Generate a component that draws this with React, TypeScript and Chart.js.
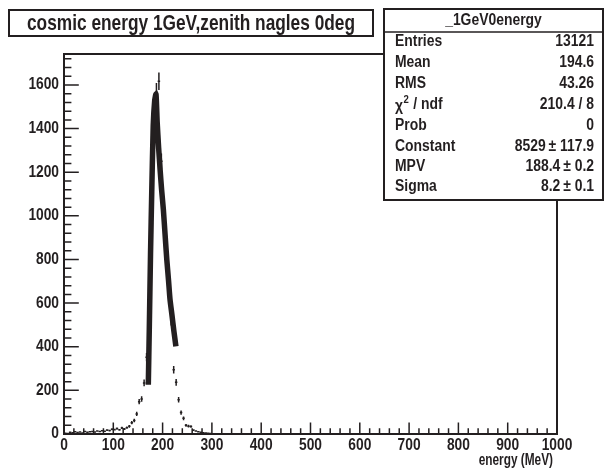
import React, { useEffect, useRef } from "react";
import { Chart, registerables } from "chart.js";

Chart.register(...registerables);

// ---------- data ----------
const binWidth = 5; // MeV
const binCenters = [
  2.5, 7.5, 12.5, 17.5, 22.5, 27.5, 32.5, 37.5, 42.5, 47.5,
  52.5, 57.5, 62.5, 67.5, 72.5, 77.5, 82.5, 87.5, 92.5, 97.5,
  102.5, 107.5, 112.5, 117.5, 122.5, 127.5, 132.5, 137.5, 142.5, 147.5,
  152.5, 157.5, 162.5, 167.5, 172.5, 177.5, 182.5, 187.5, 192.5, 197.5,
  202.5, 207.5, 212.5, 217.5, 222.5, 227.5, 232.5, 237.5, 242.5, 247.5,
  252.5, 257.5, 262.5, 267.5, 272.5, 277.5, 282.5, 287.5, 292.5, 297.5,
];
const binCounts = [
  3, 2, 8, 6, 10, 7, 9, 5, 11, 8,
  10, 12, 9, 14, 11, 15, 13, 18, 16, 22,
  20, 25, 19, 28, 23, 29, 35, 52, 62, 92,
  148, 160, 234, 352, 560, 960, 1380, 1570, 1617, 1250,
  1000, 820, 660, 520, 295, 237, 157, 98, 72, 40,
  36, 34, 18, 14, 10, 8, 6, 5, 3, 2,
];

// Landau fit curve as drawn (energy MeV, value)
const fitEnergy = [171, 173, 175.5, 178, 181, 184, 186.6, 189, 192, 195, 198, 201.5, 205, 208.5, 212, 215, 219, 223, 227];
const fitValue = [226, 480, 825, 1111, 1415, 1530, 1558, 1430, 1310, 1210, 1120, 1030, 915, 800, 705, 618, 545, 470, 402];

const xTickValues = [0, 100, 200, 300, 400, 500, 600, 700, 800, 900, 1000];
const yTickValues = [0, 200, 400, 600, 800, 1000, 1200, 1400, 1600];
const xMax = 1000;
const yMax = 1742;

const chartTitle = "cosmic energy 1GeV,zenith nagles 0deg";
const xAxisTitle = "energy (MeV)";
const statsTitle = "_1GeV0energy";
const statLabels = ["Entries", "Mean", "RMS", "CHI2", "Prob", "Constant", "MPV", "Sigma"];
const statValues = ["13121", "194.6", "43.26", "210.4 / 8", "0", "8529\u2009\u00b1 117.9", "188.4\u2009\u00b1 0.2", "8.2\u2009\u00b1 0.1"];

// ---------- style ----------
const INK = "#231f20";
const FONT = "'Liberation Sans', Arial, Helvetica, sans-serif";

// draw horizontally condensed (Helvetica-condensed look) real text
function condText(ctx: any, text: string, x: number, y: number, align: string, sx: number) {
  const w = ctx.measureText(text).width * sx;
  let x0 = x;
  if (align === "right") x0 = x - w;
  else if (align === "center") x0 = x - w / 2;
  ctx.save();
  ctx.translate(x0, y);
  ctx.scale(sx, 1);
  ctx.textAlign = "left";
  ctx.fillText(text, 0, 0);
  ctx.restore();
  return w;
}

const rootPlugin = {
  id: "rootStyle",
  beforeDatasetsDraw(chart: any) {
    const { ctx, scales } = chart;
    const x = scales.x;
    const y = scales.y;
    ctx.save();
    ctx.strokeStyle = INK;
    ctx.lineWidth = 1.5;
    binCenters.forEach((c, i) => {
      const n = binCounts[i];
      if (n <= 0) return;
      const e = Math.sqrt(n);
      const px = x.getPixelForValue(c);
      const py = y.getPixelForValue(n);
      ctx.beginPath();
      ctx.moveTo(px, y.getPixelForValue(n + e));
      ctx.lineTo(px, y.getPixelForValue(Math.max(0, n - e)));
      ctx.moveTo(x.getPixelForValue(c - binWidth / 2), py);
      ctx.lineTo(x.getPixelForValue(c + binWidth / 2), py);
      ctx.stroke();
    });
    ctx.restore();
  },
  afterDraw(chart: any) {
    const { ctx, chartArea, scales } = chart;
    const x = scales.x;
    const y = scales.y;
    const { left, right, top, bottom } = chartArea;
    ctx.save();
    ctx.strokeStyle = INK;
    ctx.fillStyle = INK;

    // ticks (inside the frame, ROOT style)
    ctx.lineWidth = 1.5;
    ctx.beginPath();
    for (let k = 0; k < xTickValues.length; k++) {
      const v = xTickValues[k];
      const px = x.getPixelForValue(v);
      ctx.moveTo(px, bottom);
      ctx.lineTo(px, bottom - 11.4);
      if (k < xTickValues.length - 1) {
        const step = (xTickValues[k + 1] - v) / 5;
        for (let m = 1; m < 5; m++) {
          const mx = x.getPixelForValue(v + m * step);
          ctx.moveTo(mx, bottom);
          ctx.lineTo(mx, bottom - 5.7);
        }
      }
    }
    for (let k = 0; k < yTickValues.length; k++) {
      const v = yTickValues[k];
      const py = y.getPixelForValue(v);
      ctx.moveTo(left, py);
      ctx.lineTo(left + 14.8, py);
      const step = k < yTickValues.length - 1 ? yTickValues[k + 1] - v : yTickValues[1] - yTickValues[0];
      for (let m = 1; m < 5; m++) {
        const val = v + (m * step) / 5;
        if (val > yMax) break;
        const my = y.getPixelForValue(val);
        ctx.moveTo(left, my);
        ctx.lineTo(left + 7.4, my);
      }
    }
    ctx.stroke();

    // frame
    ctx.lineWidth = 2;
    ctx.strokeRect(left, top, right - left, bottom - top);

    ctx.textBaseline = "middle";
    const tsx = 0.86;

    // tick labels
    ctx.font = `bold 16px ${FONT}`;
    xTickValues.forEach((v) => {
      condText(ctx, String(v), x.getPixelForValue(v), bottom + 12, "center", tsx);
    });
    yTickValues.forEach((v) => {
      condText(ctx, String(v), left - 5, y.getPixelForValue(v), "right", tsx);
    });

    // x axis title
    ctx.font = `bold 16px ${FONT}`;
    condText(ctx, xAxisTitle, right - 4, 461, "right", 0.74);

    // title box
    ctx.fillStyle = "#ffffff";
    ctx.fillRect(9, 10, 364, 26);
    ctx.lineWidth = 2;
    ctx.strokeRect(9, 10, 364, 26);
    ctx.fillStyle = INK;
    ctx.font = `bold 22px ${FONT}`;
    const tw = ctx.measureText(chartTitle).width;
    condText(ctx, chartTitle, 191, 24, "center", 328 / tw);

    // stats box
    const bx = 384, by = 9, bw = 219, bh = 191;
    ctx.fillStyle = "#ffffff";
    ctx.fillRect(bx, by, bw, bh);
    ctx.strokeRect(bx, by, bw, bh);
    ctx.lineWidth = 1.5;
    ctx.beginPath();
    ctx.moveTo(bx, 32);
    ctx.lineTo(bx + bw, 32);
    ctx.stroke();
    ctx.fillStyle = INK;
    const sx = 0.87;
    ctx.font = `bold 16px ${FONT}`;
    condText(ctx, statsTitle, bx + bw / 2, 21, "center", sx);
    const rowY = [42, 63, 84, 105, 126, 147, 167, 187];
    statLabels.forEach((lab, i) => {
      const yy = rowY[i];
      if (lab === "CHI2") {
        ctx.font = `bold 16px ${FONT}`;
        const w = condText(ctx, "\u03c7", 395, yy + 2, "left", sx);
        ctx.font = `bold 11px ${FONT}`;
        const w2 = condText(ctx, "2", 395 + w + 0.5, yy - 5, "left", sx);
        ctx.font = `bold 16px ${FONT}`;
        condText(ctx, " / ndf", 395 + w + w2 + 1, yy, "left", sx);
      } else {
        ctx.font = `bold 16px ${FONT}`;
        condText(ctx, lab, 395, yy, "left", sx);
      }
      ctx.font = `bold 16px ${FONT}`;
      condText(ctx, statValues[i], 594, yy, "right", sx);
    });
    ctx.restore();
  },
};

export default function App() {
  const ref = useRef<HTMLCanvasElement | null>(null);
  useEffect(() => {
    if (!ref.current) return;
    const chart = new Chart(ref.current, {
      type: "line",
      data: {
        datasets: [
          {
            label: "fit",
            data: fitEnergy.map((e, i) => ({ x: e, y: fitValue[i] })),
            borderColor: INK,
            borderWidth: 5.5,
            pointRadius: 0,
            tension: 0.2,
            fill: false,
          },
        ],
      },
      options: {
        responsive: false,
        animation: false,
        devicePixelRatio: 1,
        layout: { padding: { left: 0, top: 54, right: 48, bottom: 0 } },
        plugins: { legend: { display: false }, tooltip: { enabled: false }, title: { display: false } },
        scales: {
          x: {
            type: "linear",
            min: 0,
            max: xMax,
            grid: { display: false, drawTicks: false },
            border: { display: false },
            afterBuildTicks: (s: any) => {
              s.ticks = xTickValues.map((v) => ({ value: v }));
            },
            afterFit: (s: any) => {
              s.height = 37;
            },
            ticks: { display: false },
          },
          y: {
            type: "linear",
            min: 0,
            max: yMax,
            grid: { display: false, drawTicks: false },
            border: { display: false },
            afterBuildTicks: (s: any) => {
              s.ticks = yTickValues.map((v) => ({ value: v }));
            },
            afterFit: (s: any) => {
              s.width = 64;
            },
            ticks: { display: false },
          },
        },
      },
      plugins: [rootPlugin],
    } as any);
    return () => chart.destroy();
  }, []);
  return (
    <div style={{ position: "absolute", left: 0, top: 0, width: 605, height: 471, background: "#fff" }}>
      <canvas ref={ref} width={605} height={471} style={{ display: "block" }} />
    </div>
  );
}
